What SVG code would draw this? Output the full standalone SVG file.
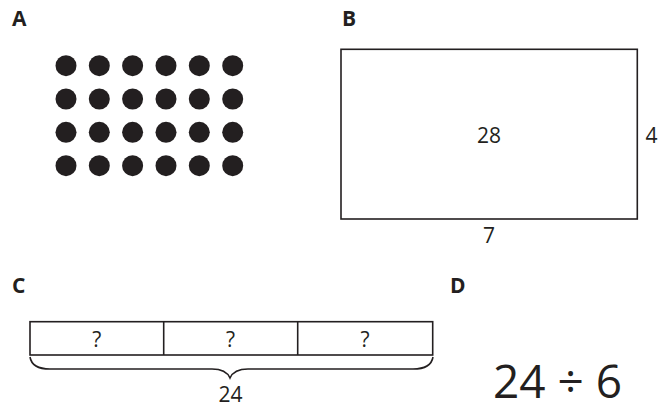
<svg xmlns="http://www.w3.org/2000/svg" width="664" height="405" viewBox="0 0 664 405">
<style>
.lbl{font-family:"Open Sans","Noto Sans",sans-serif;font-weight:bold;font-size:21px;fill:#231f20}
.t{font-family:"Open Sans","Noto Sans",sans-serif;font-size:21px;fill:#231f20;text-anchor:middle}
.ln{fill:none;stroke:#231f20;stroke-width:1.6}
.dot{fill:#231f20}
</style>
<rect width="664" height="405" fill="#fff"/>
<g id="A">
<text class="lbl" x="12" y="26">A</text>
<g class="dot">
<circle cx="66" cy="65.7" r="10.5"/><circle cx="99.3" cy="65.7" r="10.5"/><circle cx="132.6" cy="65.7" r="10.5"/><circle cx="166" cy="65.7" r="10.5"/><circle cx="199.3" cy="65.7" r="10.5"/><circle cx="232.7" cy="65.7" r="10.5"/>
<circle cx="66" cy="99" r="10.5"/><circle cx="99.3" cy="99" r="10.5"/><circle cx="132.6" cy="99" r="10.5"/><circle cx="166" cy="99" r="10.5"/><circle cx="199.3" cy="99" r="10.5"/><circle cx="232.7" cy="99" r="10.5"/>
<circle cx="66" cy="132.3" r="10.5"/><circle cx="99.3" cy="132.3" r="10.5"/><circle cx="132.6" cy="132.3" r="10.5"/><circle cx="166" cy="132.3" r="10.5"/><circle cx="199.3" cy="132.3" r="10.5"/><circle cx="232.7" cy="132.3" r="10.5"/>
<circle cx="66" cy="165.7" r="10.5"/><circle cx="99.3" cy="165.7" r="10.5"/><circle cx="132.6" cy="165.7" r="10.5"/><circle cx="166" cy="165.7" r="10.5"/><circle cx="199.3" cy="165.7" r="10.5"/><circle cx="232.7" cy="165.7" r="10.5"/>
</g>
</g>
<g id="B">
<text class="lbl" x="342" y="26">B</text>
<rect class="ln" x="341" y="49.3" width="296.3" height="169.7"/>
<text class="t" x="489" y="142.5">28</text>
<text class="t" x="651.5" y="142.5">4</text>
<text class="t" x="489" y="243">7</text>
</g>
<g id="C">
<text class="lbl" x="12" y="293">C</text>
<rect class="ln" x="30" y="321.7" width="402.7" height="33.3"/>
<line class="ln" x1="163.7" y1="321.7" x2="163.7" y2="355"/>
<line class="ln" x1="297.7" y1="321.7" x2="297.7" y2="355"/>
<text class="t" x="96.7" y="346.5">?</text>
<text class="t" x="230.5" y="346.5">?</text>
<text class="t" x="365" y="346.5">?</text>
<path class="ln" d="M30,357 Q32,369 50,369 L212,369 Q226,369 230,378 Q234,369 248,369 L413,369 Q431,369 433,357"/>
<text class="t" x="230.5" y="402">24</text>
</g>
<g id="D">
<text class="lbl" x="450" y="293">D</text>
<text class="t" x="557.5" y="398" style="font-size:46px">24 ÷ 6</text>
</g>
</svg>
